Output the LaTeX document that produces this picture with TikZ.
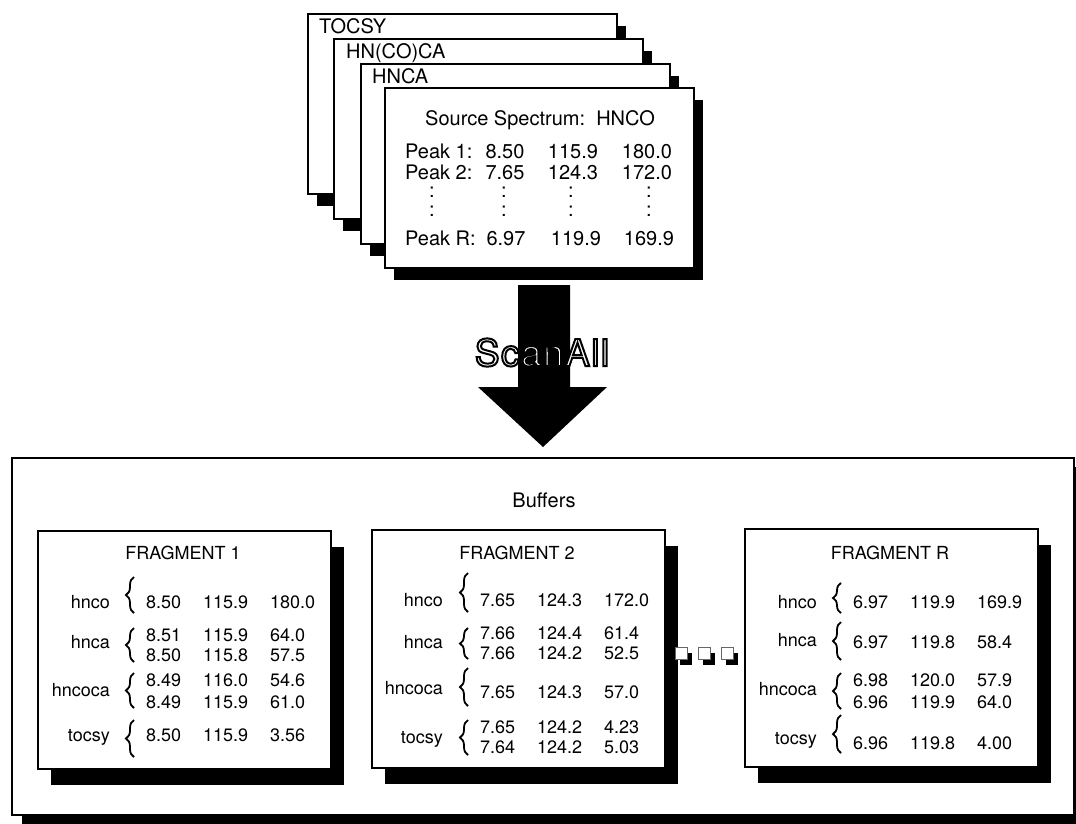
\documentclass[tikz,border=0pt]{standalone}
\usepackage{fontspec}
\setmainfont{TeX Gyre Heros}
\newfontfamily\scanfont[LetterSpace=4]{TeX Gyre Heros}
\usetikzlibrary{shadows,decorations.pathreplacing}
\tikzset{
  card/.style={draw=black, line width=2pt, fill=white, anchor=north west, inner sep=0pt,
    minimum width=309pt, minimum height=180pt,
    drop shadow={shadow xshift=9pt, shadow yshift=-12pt, opacity=1, fill=black}},
  frag/.style={draw=black, line width=2.2pt, fill=white, anchor=north west, inner sep=0pt,
    minimum width=293pt, minimum height=238pt,
    drop shadow={shadow xshift=13pt, shadow yshift=-16pt, opacity=1, fill=black}},
  outerbox/.style={draw=black, line width=2.4pt, fill=white, anchor=north west, inner sep=0pt,
    minimum width=1062pt, minimum height=357pt,
    drop shadow={shadow xshift=10pt, shadow yshift=-9pt, opacity=1, fill=black}},
  sq/.style={draw=black!60, line width=0.8pt, fill=white, anchor=north west, inner sep=0pt,
    minimum size=12pt,
    drop shadow={shadow xshift=5pt, shadow yshift=-6pt, opacity=1, fill=black}},
  bigtxt/.style={font=\fontsize{20}{23}\selectfont, inner sep=0pt},
  ftxt/.style={font=\fontsize{18}{21}\selectfont, inner sep=0pt},
  num/.style={ftxt, anchor=base west},
  lab/.style={ftxt, anchor=base east},
  brc/.style={decorate, decoration={brace, amplitude=8pt}, line width=1.8pt},
}
\newcommand\vals[5]{%
  \node[num] (#1a) at (109,#2) {#3};
  \node[num] (#1b) at (166,#2) {#4};
  \node[num] (#1c) at (233,#2) {#5};}
\newcommand\brc[2]{\draw[brc] (97,#2) -- (97,#1);}
\newcommand\outlinetext[1]{{\color{white}\special{pdf:literal direct 0 G 2 w 2 Tr}#1\special{pdf:literal direct 0 Tr}}}
\begin{document}
\begin{tikzpicture}[x=1pt,y=-1pt]
\useasboundingbox (0,0) rectangle (1076,823);

% ---- stacked spectra ----
\node[card] (tocsy) at (307,13) {};
\node[bigtxt, anchor=base west] (tocsylab) at (319,33) {TOCSY};
\node[card] (hncoca) at (333,38) {};
\node[bigtxt, anchor=base west] (hncocalab) at (346,58) {HN(CO)CA};
\node[card] (hnca) at (360,63) {};
\node[bigtxt, anchor=base west] (hncalab) at (372,83) {HNCA};
\node[card] (hnco) at (384,87) {};
\node[bigtxt, anchor=base] (srctitle) at (540,125) {Source Spectrum:\ \ HNCO};
\node[bigtxt, anchor=base west] (p1) at (405,158) {Peak 1:};
\node[bigtxt, anchor=base] (p1a) at (505,158) {8.50};
\node[bigtxt, anchor=base] (p1b) at (573,158) {115.9};
\node[bigtxt, anchor=base] (p1c) at (647,158) {180.0};
\node[bigtxt, anchor=base west] (p2) at (405,179) {Peak 2:};
\node[bigtxt, anchor=base] (p2a) at (505,179) {7.65};
\node[bigtxt, anchor=base] (p2b) at (573,179) {124.3};
\node[bigtxt, anchor=base] (p2c) at (647,179) {172.0};
\foreach \r/\yy in {1/197,2/216}{
  \foreach \c/\xx in {a/432,b/504,c/571,d/649}{
    \node[bigtxt, anchor=base] (dot\r\c) at (\xx,\yy) {:};
  }
}
\node[bigtxt, anchor=base west] (pR) at (405,245) {Peak R:};
\node[bigtxt, anchor=base] (pRa) at (506,245) {6.97};
\node[bigtxt, anchor=base] (pRb) at (576,245) {119.9};
\node[bigtxt, anchor=base] (pRc) at (649,245) {169.9};

% ---- ScanAll arrow ----
\coordinate (arrtop) at (544,285);
\coordinate (arrtip) at (543,447);
\fill[black] (518,285) -- (570,285) -- (570,387) -- (607,387) -- (arrtip)
  -- (478,387) -- (518,387) -- cycle;
\node[font=\scanfont\fontsize{37}{40}\selectfont, inner sep=0pt, anchor=base] (scan) at (542,366)
  {\outlinetext{ScanAll}};

% ---- buffers ----
\node[outerbox] (buffers) at (11,457) {};
\node[bigtxt, anchor=base] (buftitle) at (544,507) {Buffers};

% Fragment 1
\node[frag] (frag1) at (37,530) {};
\begin{scope}[shift={(37,530)}]
  \node[ftxt, anchor=base] (f1t) at (146,29) {FRAGMENT 1};
  \node[lab] (f1l1) at (73,78) {hnco};   \brc{47}{83}   \vals{f1r1}{78}{8.50}{115.9}{180.0}
  \node[lab] (f1l2) at (73,118) {hnca};  \brc{98}{132}  \vals{f1r2}{111}{8.51}{115.9}{64.0}
                                                      \vals{f1r3}{131}{8.50}{115.8}{57.5}
  \node[lab] (f1l3) at (73,166) {hncoca};\brc{143}{178} \vals{f1r4}{156}{8.49}{116.0}{54.6}
                                                      \vals{f1r5}{178}{8.49}{115.9}{61.0}
  \node[lab] (f1l4) at (73,211) {tocsy}; \brc{190}{227} \vals{f1r6}{211}{8.50}{115.9}{3.56}
\end{scope}

% Fragment 2
\node[frag] (frag2) at (371,529) {};
\begin{scope}[shift={(371,529)}]
  \node[ftxt, anchor=base] (f2t) at (146,30) {FRAGMENT 2};
  \node[lab] (f2l1) at (72,77) {hnco};   \brc{44}{83}   \vals{f2r1}{77}{7.65}{124.3}{172.0}
  \node[lab] (f2l2) at (72,119) {hnca};  \brc{99}{130}  \vals{f2r2}{110}{7.66}{124.4}{61.4}
                                                      \vals{f2r3}{130}{7.66}{124.2}{52.5}
  \node[lab] (f2l3) at (72,165) {hncoca};\brc{139}{177} \vals{f2r4}{169}{7.65}{124.3}{57.0}
  \node[lab] (f2l4) at (72,214) {tocsy}; \brc{191}{226} \vals{f2r5}{204}{7.65}{124.2}{4.23}
                                                      \vals{f2r6}{224}{7.64}{124.2}{5.03}
\end{scope}

% dots between fragments
\node[sq] (d1) at (675,647) {};
\node[sq] (d2) at (698,647) {};
\node[sq] (d3) at (721,647) {};

% Fragment R
\node[frag] (fragR) at (744,528) {};
\begin{scope}[shift={(744,528)}]
  \node[ftxt, anchor=base] (fRt) at (146,31) {FRAGMENT R};
  \node[lab] (fRl1) at (73,80) {hnco};   \brc{55}{85}   \vals{fRr1}{80}{6.97}{119.9}{169.9}
  \node[lab] (fRl2) at (73,118) {hnca};  \brc{94}{132}  \vals{fRr2}{120}{6.97}{119.8}{58.4}
  \node[lab] (fRl3) at (73,167) {hncoca};\brc{145}{181} \vals{fRr3}{158}{6.98}{120.0}{57.9}
                                                      \vals{fRr4}{180}{6.96}{119.9}{64.0}
  \node[lab] (fRl4) at (73,216) {tocsy}; \brc{187}{225} \vals{fRr5}{221}{6.96}{119.8}{4.00}
\end{scope}
\end{tikzpicture}
\end{document}
